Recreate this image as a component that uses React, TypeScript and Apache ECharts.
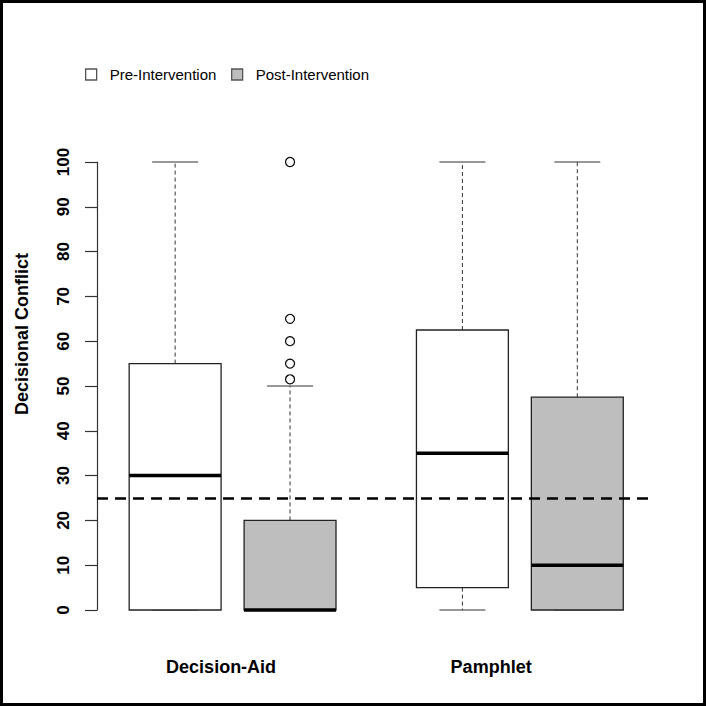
import React, { useEffect, useRef } from "react";
import * as echarts from "echarts";

// ---- data ----
const groupLabels = ["Decision-Aid", "Pamphlet"];
const groupLabelPositions = [1.4, 3.75];
const prePositions = [1, 3.5];
const postPositions = [2, 4.5];
// [min, q1, median, q3, max]
const preStats = [
  [0, 0, 30, 55, 100],
  [0, 5, 35, 62.5, 100],
];
const postStats = [
  [0, 0, 0, 20, 50],
  [0, 0, 10, 47.5, 100],
];
const outlierPosition = 2;
const outlierValues = [100, 65, 60, 55, 51.5];
const thresholdValue = 25;
const yMin = 0;
const yMax = 100;
const yInterval = 10;
const legendNames = ["Pre-Intervention", "Post-Intervention"];

const PRE_FILL = "#ffffff";
const POST_FILL = "#bebebe";
const BOX_STROKE = "#222222";

function makeRenderItem(fill: string) {
  return (params: any, api: any) => {
    const x = api.value(0);
    const vMin = api.value(1);
    const q1 = api.value(2);
    const med = api.value(3);
    const q3 = api.value(4);
    const vMax = api.value(5);
    const halfW = api.size([0.8, 0])[0] / 2;
    const cx = api.coord([x, 0])[0];
    const yMinP = api.coord([x, vMin])[1];
    const yQ1 = api.coord([x, q1])[1];
    const yMed = api.coord([x, med])[1];
    const yQ3 = api.coord([x, q3])[1];
    const yMaxP = api.coord([x, vMax])[1];
    const whiskerStyle = { stroke: "#333", lineWidth: 1, lineDash: [4, 3] };
    const capStyle = { stroke: "#333", lineWidth: 1.2 };
    return {
      type: "group",
      children: [
        { type: "line", shape: { x1: cx, y1: yQ1, x2: cx, y2: yMinP }, style: whiskerStyle },
        { type: "line", shape: { x1: cx, y1: yQ3, x2: cx, y2: yMaxP }, style: whiskerStyle },
        { type: "line", shape: { x1: cx - halfW / 2, y1: yMinP, x2: cx + halfW / 2, y2: yMinP }, style: capStyle },
        { type: "line", shape: { x1: cx - halfW / 2, y1: yMaxP, x2: cx + halfW / 2, y2: yMaxP }, style: capStyle },
        {
          type: "rect",
          shape: { x: cx - halfW, y: yQ3, width: halfW * 2, height: yQ1 - yQ3 },
          style: { fill, stroke: BOX_STROKE, lineWidth: 1.3 },
        },
        { type: "line", shape: { x1: cx - halfW, y1: yMed, x2: cx + halfW, y2: yMed }, style: { stroke: "#000", lineWidth: 3.5 } },
      ],
    };
  };
}

export default function App() {
  const ref = useRef<HTMLDivElement>(null);
  useEffect(() => {
    if (!ref.current) return;
    const chart = echarts.init(ref.current, null, { renderer: "svg" });
    const boldFont = "Liberation Sans, Arial, Helvetica, sans-serif";
    const legendCommon = {
      orient: "horizontal",
      selectedMode: false,
      padding: 0,
      itemWidth: 11,
      itemHeight: 11,
      icon: "rect",
      textStyle: {
        fontFamily: "Liberation Sans, Arial, sans-serif",
        fontSize: 15,
        color: "#000",
        lineHeight: 18,
        padding: [0, 0, 0, 8],
      },
    };
    chart.setOption({
      animation: false,
      backgroundColor: "#ffffff",
      grid: { left: 97, right: 54, top: 162, bottom: 96, containLabel: false },
      legend: [
        {
          ...legendCommon,
          left: 85,
          top: 65.5,
          data: [{ name: legendNames[0], itemStyle: { color: PRE_FILL, borderColor: "#555", borderWidth: 1.3 } }],
        },
        {
          ...legendCommon,
          left: 231,
          top: 65.5,
          data: [{ name: legendNames[1], itemStyle: { color: POST_FILL, borderColor: "#555", borderWidth: 1.3 } }],
        },
      ],
      xAxis: {
        type: "value",
        min: 0.32,
        max: 5.15,
        axisLine: { show: false },
        axisTick: { show: false },
        splitLine: { show: false },
        axisLabel: {
          customValues: groupLabelPositions,
          formatter: (v: number) => {
            const i = groupLabelPositions.findIndex((p) => Math.abs(p - v) < 1e-6);
            return i >= 0 ? groupLabels[i] : "";
          },
          fontFamily: boldFont,
          fontWeight: "bold",
          fontSize: 18,
          color: "#000",
          margin: 48,
        },
      },
      yAxis: {
        type: "value",
        min: yMin,
        max: yMax,
        interval: yInterval,
        name: "Decisional Conflict",
        nameLocation: "middle",
        nameRotate: 90,
        nameGap: 66,
        nameTextStyle: {
          fontFamily: boldFont,
          fontWeight: "bold",
          fontSize: 18,
          color: "#000",
          padding: [0, 0, 0, 104],
        },
        axisLine: { show: true, lineStyle: { color: "#333", width: 1.2 } },
        axisTick: { show: true, length: 12, lineStyle: { color: "#333", width: 1.2 } },
        splitLine: { show: false },
        axisLabel: {
          rotate: 90,
          fontFamily: boldFont,
          fontWeight: "bold",
          fontSize: 17,
          color: "#000",
          margin: 25,
        },
      },
      series: [
        {
          name: legendNames[0],
          type: "custom",
          renderItem: makeRenderItem(PRE_FILL),
          itemStyle: { color: PRE_FILL },
          encode: { x: 0, y: [1, 2, 3, 4, 5] },
          data: prePositions.map((p, i) => [p, ...preStats[i]]),
          z: 2,
        },
        {
          name: legendNames[1],
          type: "custom",
          renderItem: makeRenderItem(POST_FILL),
          itemStyle: { color: POST_FILL },
          encode: { x: 0, y: [1, 2, 3, 4, 5] },
          data: postPositions.map((p, i) => [p, ...postStats[i]]),
          z: 2,
        },
        {
          name: "outliers",
          type: "scatter",
          symbol: "circle",
          symbolSize: 9,
          itemStyle: { color: "#ffffff", borderColor: "#000", borderWidth: 1.2, opacity: 1 },
          data: outlierValues.map((v) => [outlierPosition, v]),
          z: 3,
          markLine: {
            silent: true,
            symbol: "none",
            label: { show: false },
            lineStyle: { color: "#000", width: 2.6, type: [11, 7] },
            data: [{ yAxis: thresholdValue }],
          },
        },
      ],
      graphic: [
        {
          type: "rect",
          shape: { x: 1.5, y: 1.5, width: 703, height: 703 },
          style: { fill: "none", stroke: "#000", lineWidth: 3 },
          z: 100,
        },
      ],
    });
    return () => chart.dispose();
  }, []);
  return (
    <div
      ref={ref}
      style={{ position: "absolute", left: 0, top: 0, width: 706, height: 706, background: "#fff" }}
    />
  );
}
